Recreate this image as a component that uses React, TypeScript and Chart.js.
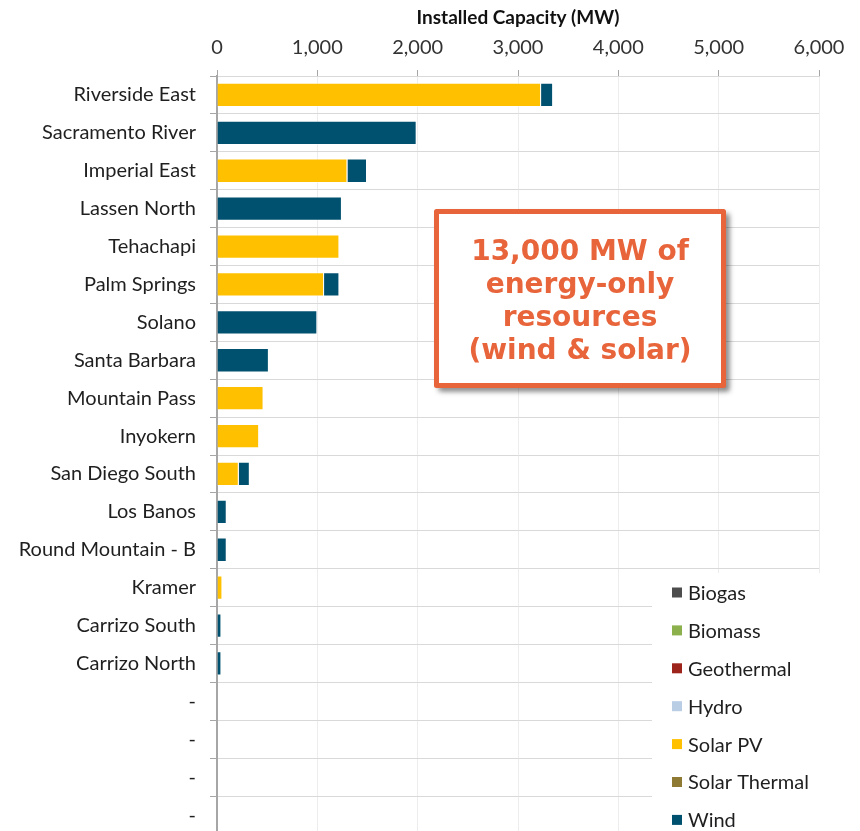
import React, { useEffect, useRef } from "react";
import { Chart, registerables } from "chart.js";

Chart.register(...registerables);

// Transmission zones, top to bottom
const regions = [
  "Riverside East",
  "Sacramento River",
  "Imperial East",
  "Lassen North",
  "Tehachapi",
  "Palm Springs",
  "Solano",
  "Santa Barbara",
  "Mountain Pass",
  "Inyokern",
  "San Diego South",
  "Los Banos",
  "Round Mountain - B",
  "Kramer",
  "Carrizo South",
  "Carrizo North",
  "-",
  "-",
  "-",
  "-",
];

// Installed capacity (MW) by resource type
const biogasMW = [0, 0, 0, 0, 0, 0, 0, 0, 0, 0, 0, 0, 0, 0, 0, 0, 0, 0, 0, 0];
const biomassMW = [0, 0, 0, 0, 0, 0, 0, 0, 0, 0, 0, 0, 0, 0, 0, 0, 0, 0, 0, 0];
const geothermalMW = [0, 0, 0, 0, 0, 0, 0, 0, 0, 0, 0, 0, 0, 0, 0, 0, 0, 0, 0, 0];
const hydroMW = [0, 0, 0, 0, 0, 0, 0, 0, 0, 0, 0, 0, 0, 0, 0, 0, 0, 0, 0, 0];
const solarPvMW = [3230, 0, 1300, 0, 1220, 1067, 0, 0, 464, 420, 217, 0, 0, 54, 0, 0, 0, 0, 0, 0];
const solarThermalMW = [0, 0, 0, 0, 0, 0, 0, 0, 0, 0, 0, 0, 0, 0, 0, 0, 0, 0, 0, 0];
const windMW = [120, 1990, 195, 1245, 0, 153, 1000, 517, 0, 0, 110, 97, 97, 0, 44, 44, 0, 0, 0, 0];

const resourceTypes = ["Biogas", "Biomass", "Geothermal", "Hydro", "Solar PV", "Solar Thermal", "Wind"];
const resourceValues = [biogasMW, biomassMW, geothermalMW, hydroMW, solarPvMW, solarThermalMW, windMW];
const resourceColors = ["#4D4D4D", "#8CB04B", "#9C241B", "#B9CDE5", "#FFC000", "#8E7A32", "#00506F"];

const axisMin = 0;
const axisMax = 6000;
const axisStep = 1000;
const axisTitle = "Installed Capacity (MW)";

const calloutLines = ["13,000 MW of", "energy-only", "resources", "(wind & solar)"];

const LABEL_FONT = "Lato, 'Open Sans', sans-serif";
const TEXT_COLOR = "#1F1F1F";
const ORANGE = "#E8643A";

// Boxed note drawn over the right side of the plot
const calloutPlugin = {
  id: "callout",
  afterDraw(chart: any) {
    const { ctx, chartArea } = chart;
    const x = chartArea.left + 219.5;
    const y = chartArea.top + 135.5;
    const w = 287;
    const h = 174;
    ctx.save();
    ctx.shadowColor = "rgba(0,0,0,0.35)";
    ctx.shadowBlur = 5;
    ctx.shadowOffsetX = 4;
    ctx.shadowOffsetY = 4;
    ctx.strokeStyle = ORANGE;
    ctx.lineWidth = 5;
    ctx.lineJoin = "round";
    ctx.fillStyle = "#ffffff";
    ctx.beginPath();
    ctx.rect(x, y, w, h);
    ctx.fill();
    ctx.stroke();
    ctx.shadowColor = "transparent";
    ctx.fillRect(x + 2.5, y + 2.5, w - 5, h - 5);
    ctx.fillStyle = ORANGE;
    ctx.font = "bold 28px 'DejaVu Sans', Verdana, sans-serif";
    ctx.textAlign = "center";
    ctx.textBaseline = "alphabetic";
    const cx = x + w / 2;
    calloutLines.forEach((line, i) => {
      ctx.fillText(line, cx, y + 48.5 + i * 33);
    });
    ctx.restore();
  },
};

// Legend box in the lower right corner of the plot
const cornerLegendPlugin = {
  id: "cornerLegend",
  afterDraw(chart: any) {
    const { ctx, chartArea } = chart;
    const left = chartArea.left + 435;
    const top = chartArea.top + 497;
    ctx.save();
    ctx.fillStyle = "#ffffff";
    ctx.fillRect(left, top, chart.width - left, chart.height - top);
    ctx.font = `20px ${LABEL_FONT}`;
    ctx.textBaseline = "middle";
    ctx.textAlign = "left";
    chart.data.datasets.forEach((ds: any, i: number) => {
      const cy = top + 19.5 + i * 37.9;
      ctx.fillStyle = ds.backgroundColor;
      ctx.fillRect(left + 20, cy - 5, 10, 10);
      ctx.fillStyle = TEXT_COLOR;
      ctx.fillText(ds.label, left + 36, cy + 1);
    });
    ctx.restore();
  },
};

export default function App() {
  const canvasRef = useRef<HTMLCanvasElement | null>(null);

  useEffect(() => {
    if (!canvasRef.current) return;
    const chart = new Chart(canvasRef.current, {
      type: "bar",
      data: {
        labels: regions,
        datasets: resourceTypes.map((name, i) => ({
          label: name,
          data: resourceValues[i].map((v) => (v > 0 ? v : null)),
          backgroundColor: resourceColors[i],
          borderColor: "rgba(255,255,255,0.45)",
          borderWidth: 1,
          barPercentage: 0.64,
          categoryPercentage: 1,
        })),
      },
      options: {
        indexAxis: "y",
        responsive: false,
        animation: false,
        layout: { padding: { left: 0, right: 41, top: 0, bottom: 0 } },
        plugins: {
          legend: { display: false },
          tooltip: { enabled: false },
        },
        scales: {
          x: {
            position: "top",
            stacked: true,
            min: axisMin,
            max: axisMax,
            ticks: {
              stepSize: axisStep,
              color: "#333333",
              font: { family: LABEL_FONT, size: 20 },
              padding: 10,
            },
            grid: {
              color: "#EDEDED",
              tickColor: "#A6A6A6",
              tickLength: 6,
            },
            border: { display: true, color: "#D9D9D9", width: 1 },
            title: {
              display: true,
              text: axisTitle,
              color: "#111111",
              font: { family: LABEL_FONT, size: 19, weight: "bold" },
              padding: { top: 6, bottom: 0 },
            },
            afterFit(scale: any) {
              scale.height = 76;
            },
          },
          y: {
            stacked: true,
            ticks: {
              color: TEXT_COLOR,
              font: { family: LABEL_FONT, size: 20 },
              padding: 14,
              autoSkip: false,
            },
            grid: {
              color: "#D9D9D9",
              tickColor: "#A6A6A6",
              tickLength: 7,
              offset: true,
            },
            border: { display: true, color: "#A6A6A6", width: 2 },
            afterFit(scale: any) {
              scale.width = 217;
            },
          },
        },
      },
      plugins: [calloutPlugin, cornerLegendPlugin],
    });
    return () => chart.destroy();
  }, []);

  return (
    <div
      style={{
        position: "fixed",
        left: 0,
        top: 0,
        width: 860,
        height: 831,
        overflow: "hidden",
        background: "#ffffff",
      }}
    >
      <canvas ref={canvasRef} width={860} height={860} />
    </div>
  );
}
